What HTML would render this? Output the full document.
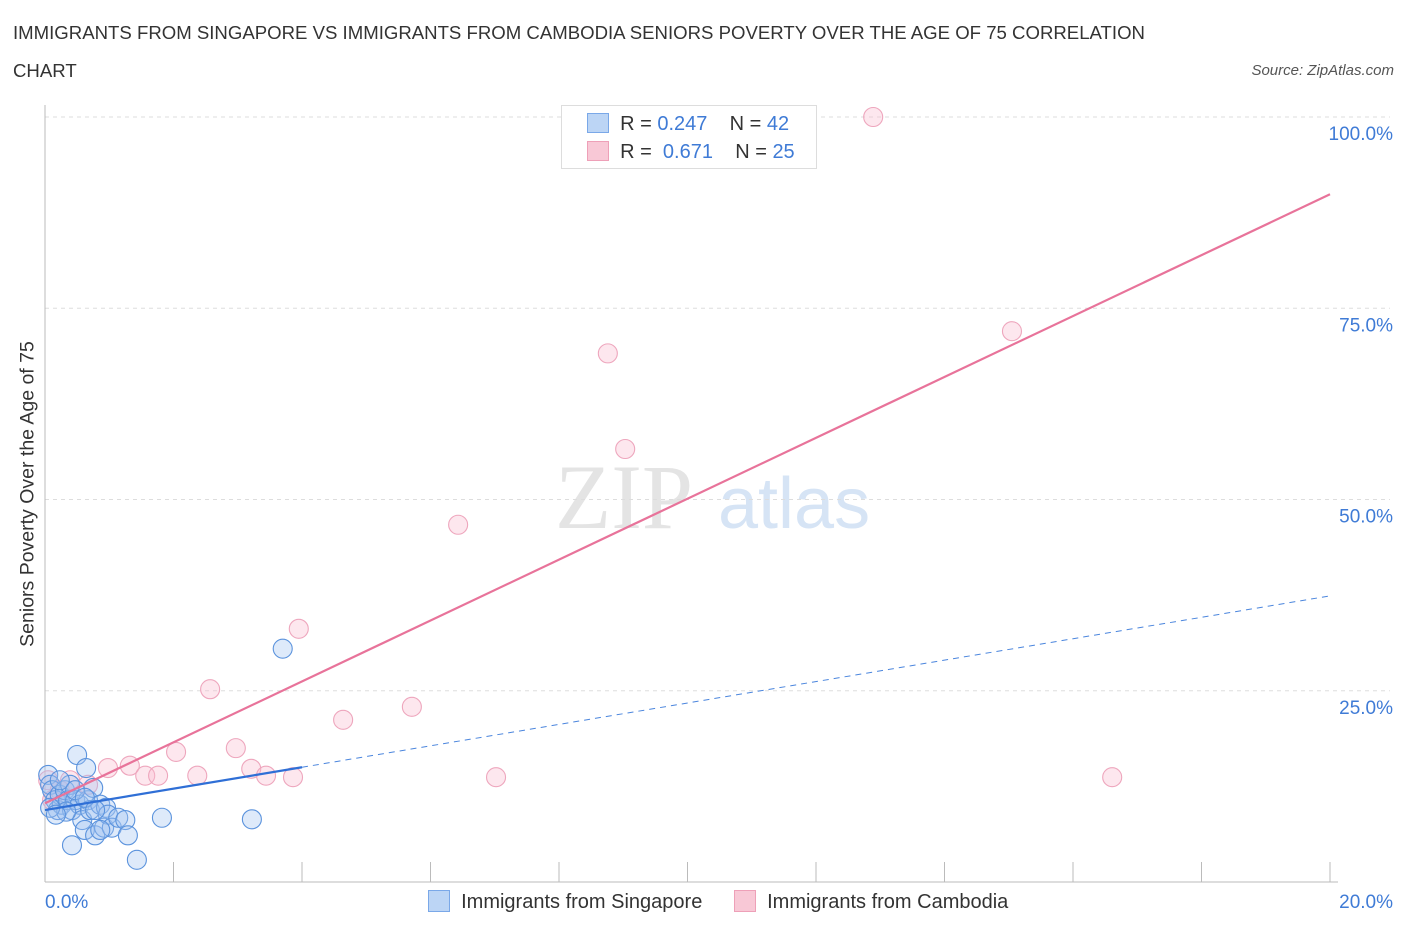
<!DOCTYPE html>
<html><head><meta charset="utf-8"><style>
body{margin:0;background:#fff;font-family:"Liberation Sans",sans-serif;}
#wrap{position:relative;width:1406px;height:930px;overflow:hidden}
.t{position:absolute;white-space:nowrap}
</style></head><body>
<div id="wrap">
<div class="t" style="left:13px;top:14px;font-size:18.6px;color:#333;line-height:38px">IMMIGRANTS FROM SINGAPORE VS IMMIGRANTS FROM CAMBODIA SENIORS POVERTY OVER THE AGE OF 75 CORRELATION<br>CHART</div>
<div class="t" style="right:12px;top:62px;font-size:15px;font-style:italic;color:#555">Source: ZipAtlas.com</div>
<div class="t" style="left:28px;top:494px;font-size:19.5px;color:#333;transform:translate(-50%,-50%) rotate(-90deg)">Seniors Poverty Over the Age of 75</div>
<svg id="svg" width="1406" height="930" style="position:absolute;left:0;top:0"></svg>
</div>
<script>
const xMin=0,xMax=20,yMin=0,yMax=100;
const yTicks=[25,50,75,100];
const yTickLabels=["25.0%","50.0%","75.0%","100.0%"];
const xTickLabels=["0.0%","20.0%"];
const sgX=[0.05,0.08,0.11,0.16,0.20,0.23,0.26,0.31,0.36,0.39,0.42,0.47,0.50,0.54,0.58,0.62,0.64,0.67,0.70,0.75,0.78,0.86,0.92,0.95,0.98,1.04,1.14,1.25,1.29,1.43,0.42,1.82,3.22,3.70,0.23,0.33,0.47,0.62,0.78,0.08,0.17,0.86];
const sgY=[14.0,12.7,12.0,10.7,9.4,11.4,10.1,12.0,10.7,12.7,9.4,10.7,16.6,10.1,8.1,6.8,14.9,10.7,9.4,12.3,6.1,10.1,7.1,9.7,8.8,7.1,8.4,8.1,6.1,2.9,4.8,8.4,8.2,30.5,13.3,9.2,12.0,11.0,9.4,9.7,8.8,6.8];
const cbX=[0.05,0.11,0.23,0.39,0.67,0.98,1.32,1.56,1.76,2.04,2.37,2.57,2.97,3.21,3.44,3.86,3.95,4.64,5.71,6.43,7.02,8.76,9.03,12.89,15.05,16.61];
const cbY=[13.3,10.7,12.0,13.3,12.7,14.9,15.2,13.9,13.9,17.0,13.9,25.2,17.5,14.8,13.9,13.7,33.1,21.2,22.9,46.7,13.7,69.1,56.6,100,72.0,13.7];
const sgTrend=[9.4,1.4];
const cbTrend=[10.3,3.98];
const sgSolidEnd=4;
const X=v=>45+(v-xMin)/(xMax-xMin)*1285;
const Y=v=>882-(v-yMin)/(yMax-yMin)*765;
const svg=document.getElementById('svg');const NS='http://www.w3.org/2000/svg';
function mk(tag,attrs,parent){const e=document.createElementNS(NS,tag);for(const k in attrs)e.setAttribute(k,attrs[k]);(parent||svg).appendChild(e);return e;}
let w=mk('text',{x:555,y:528,'font-size':92,'font-family':'Liberation Serif,serif',fill:'#e4e4e4'});w.textContent='ZIP';


let w2=mk('text',{x:718,y:528,'font-size':72,'font-family':'Liberation Sans,sans-serif',fill:'#d6e4f5'});w2.textContent='atlas';


yTicks.forEach((t,i)=>{
 const g=mk('line',{x1:45,x2:1390,y1:Y(t),y2:Y(t),stroke:'#ddd','stroke-dasharray':'4,4'});
 
 
 const l=mk('text',{x:1393,y:Y(t)+23,'text-anchor':'end','font-size':19,fill:'#3f7bd6'});l.textContent=yTickLabels[i];
 
 
});
let ax=mk('line',{x1:45,x2:45,y1:105,y2:882,stroke:'#bbb'});


let bx=mk('line',{x1:45,x2:1338,y1:882,y2:882,stroke:'#bbb'});


for(let i=0;i<=10;i++){const tk=mk('line',{x1:X(i*2),x2:X(i*2),y1:862,y2:882,stroke:'#bbb'});
 
 }
[[0,'start',45],[1,'end',1393]].forEach(([i,a,x])=>{const l=mk('text',{x:x,y:908,'text-anchor':a,'font-size':19,fill:'#3f7bd6'});l.textContent=xTickLabels[i];
 
 });
function pts(xs,ys,fill,stroke,name){xs.forEach((x,i)=>{const c=mk('circle',{cx:X(x),cy:Y(ys[i]),r:9.5,fill:fill,stroke:stroke,'stroke-width':1.1});
 
 });}
pts(cbX,cbY,'rgba(248,185,205,0.35)','#eea6bd','cambodia-point');
pts(sgX,sgY,'rgba(160,195,240,0.35)','#5b93dd','singapore-point');
let l1=mk('line',{x1:X(0),y1:Y(cbTrend[0]),x2:X(20),y2:Y(cbTrend[0]+cbTrend[1]*20),stroke:'#e8739a','stroke-width':2.2});


let l2=mk('line',{x1:X(0),y1:Y(sgTrend[0]),x2:X(sgSolidEnd),y2:Y(sgTrend[0]+sgTrend[1]*sgSolidEnd),stroke:'#2f6fd6','stroke-width':2.2});


let l3=mk('line',{x1:X(sgSolidEnd),y1:Y(sgTrend[0]+sgTrend[1]*sgSolidEnd),x2:X(20),y2:Y(sgTrend[0]+sgTrend[1]*20),stroke:'#4a85dd','stroke-width':1,'stroke-dasharray':'6,5'});


</script>
<div class="t" style="left:561px;top:105px;width:254px;height:62px;border:1px solid #ddd;background:#fff;font-size:20px;color:#333">
 <div style="position:absolute;left:25px;top:7px"><span style="display:inline-block;width:20px;height:18px;background:#bcd5f5;border:1px solid #7aa8e8;vertical-align:-3px"></span> &nbsp;R = <span style="color:#3f7bd6">0.247</span> &nbsp;&nbsp;&nbsp;N = <span style="color:#3f7bd6">42</span></div>
 <div style="position:absolute;left:25px;top:35px"><span style="display:inline-block;width:20px;height:18px;background:#f8c8d6;border:1px solid #eea0b8;vertical-align:-3px"></span> &nbsp;R = &nbsp;<span style="color:#3f7bd6">0.671</span> &nbsp;&nbsp;&nbsp;N = <span style="color:#3f7bd6">25</span></div>
</div>
<div class="t" style="left:428px;top:890px;font-size:20px;color:#333"><span style="display:inline-block;width:20px;height:20px;background:#bcd5f5;border:1px solid #7aa8e8;vertical-align:-4px"></span>&nbsp; Immigrants from Singapore</div>
<div class="t" style="left:734px;top:890px;font-size:20px;color:#333"><span style="display:inline-block;width:20px;height:20px;background:#f8c8d6;border:1px solid #eea0b8;vertical-align:-4px"></span>&nbsp; Immigrants from Cambodia</div>
</body></html>
